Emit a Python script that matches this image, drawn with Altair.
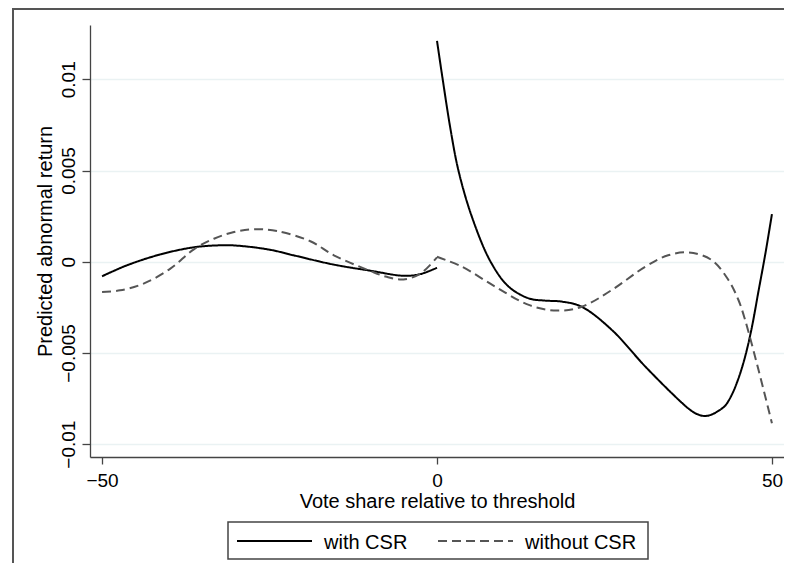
import altair as alt
import pandas as pd

# ---- data ----
x_left = [-50, -46.3, -41.3, -36.3, -32.3, -29.8, -25, -21.4, -15.4, -10, -5, -2.5, 0]
with_left = [-0.0008, -0.0002, 0.0004, 0.00079, 0.0009, 0.00088, 0.00066, 0.00035,
             -0.00016, -0.00049, -0.00077, -0.00068, -0.00033]

x_left_d = [-50, -47.3, -43.8, -39.8, -36.3, -33.3, -30.3, -27.4, -23.9, -18.9, -15.4,
            -10, -7.5, -5, -2.5, 0]
without_left = [-0.00166, -0.00157, -0.0012, -0.00038, 0.00068, 0.00126, 0.00163, 0.00178,
                0.00168, 0.00112, 0.00035, -0.0005, -0.00083, -0.00097, -0.00066, 0.00024]

x_right = [0, 0.85, 2, 3.2, 5.2, 8, 10.7, 13.7, 16, 18.7, 21.6, 26.1, 31.1, 36.1, 38, 39,
           40, 41, 42, 43, 44, 45, 46, 47, 48, 49, 50]
with_right = [0.01211, 0.0100, 0.0073, 0.0050, 0.00247, 0.0, -0.00137, -0.00201, -0.00213,
              -0.00219, -0.00247, -0.00374, -0.00575, -0.00758, -0.00818, -0.00838,
              -0.00846, -0.00838, -0.00818, -0.0079, -0.0073, -0.0064, -0.0052, -0.0036,
              -0.0016, 0.0004, 0.00261]

x_right_d = [0, 3.7, 8.7, 13.7, 17.9, 21.6, 26.1, 31.1, 34.5, 37.6, 41, 43.5, 45, 46, 48, 50]
without_right = [0.00027, -0.00027, -0.00137, -0.00237, -0.00268, -0.00247, -0.00155,
                 -0.00027, 0.00035, 0.00051, 0.00009, -0.001, -0.0021, -0.0032, -0.00594,
                 -0.00886]

series = ["with CSR", "without CSR"]
x_ticks = [-50, 0, 50]
y_ticks = [-0.01, -0.005, 0, 0.005, 0.01]

rows = []
for xs, ys, s, seg in [(x_left, with_left, series[0], "L"),
                       (x_left_d, without_left, series[1], "L"),
                       (x_right, with_right, series[0], "R"),
                       (x_right_d, without_right, series[1], "R")]:
    for i, (xv, yv) in enumerate(zip(xs, ys)):
        rows.append({"x": xv, "y": yv, "series": s, "seg": s + seg, "order": i})
df = pd.DataFrame(rows)

FONT = "Liberation Sans"
COLORS = ["#000000", "#555555"]
DASHES = [[1, 0], [9, 5]]

lines = alt.Chart(df).mark_line(strokeWidth=2, interpolate="catmull-rom").encode(
    x=alt.X("x:Q", scale=alt.Scale(domain=[-51.8, 51.8], nice=False, zero=False),
            axis=alt.Axis(values=x_ticks, format="d", grid=False,
                          title="Vote share relative to threshold",
                          tickSize=7, labelPadding=7, titlePadding=1)),
    y=alt.Y("y:Q", scale=alt.Scale(domain=[-0.010707, 0.012977], nice=False, zero=False),
            axis=alt.Axis(values=y_ticks, format="~g", grid=True,
                          title="Predicted abnormal return",
                          labelAngle=270, labelAlign="center", labelBaseline="bottom",
                          tickSize=8, labelPadding=4, titlePadding=4)),
    color=alt.Color("series:N", scale=alt.Scale(domain=series, range=COLORS), legend=None),
    strokeDash=alt.StrokeDash("series:N", scale=alt.Scale(domain=series, range=DASHES),
                              legend=None),
    detail="seg:N",
    order="order:Q",
)

# outer frame of the graph region (right/bottom edges fall outside the page)
border = alt.Chart(alt.Data(values=[{"a": 1}])).mark_rect(
    filled=False, stroke="#555555", strokeWidth=2, clip=False
).encode(x=alt.value(-77), x2=alt.value(900), y=alt.value(-16), y2=alt.value(700))

# legend drawn as a framed key below the plot
legend_box = alt.Chart(alt.Data(values=[{"a": 1}])).mark_rect(
    fill="white", stroke="#444444", strokeWidth=1.5, clip=False
).encode(x=alt.value(138), x2=alt.value(558), y=alt.value(497), y2=alt.value(534))

sym_x = [147, 348]
lab_x = [234, 435]
legend_layers = [legend_box]
for i, s in enumerate(series):
    d = alt.Data(values=[{"series": s}])
    legend_layers.append(
        alt.Chart(d).mark_rule(color=COLORS[i], strokeDash=DASHES[i], strokeWidth=2,
                               clip=False)
        .encode(x=alt.value(sym_x[i]), x2=alt.value(sym_x[i] + 75), y=alt.value(516))
    )
    legend_layers.append(
        alt.Chart(d).mark_text(font=FONT, fontSize=20, color="#000", align="left",
                               baseline="alphabetic", clip=False)
        .encode(text="series:N", x=alt.value(lab_x[i]), y=alt.value(524))
    )

chart = alt.layer(border, lines, *legend_layers).properties(
    width=694, height=432,
    autosize=alt.AutoSizeParams(type="none"),
    padding={"left": 82, "top": 17, "right": 0, "bottom": 106},
    background="white",
).configure_view(strokeWidth=0).configure_axis(
    labelFont=FONT, titleFont=FONT, labelFontSize=19, titleFontSize=20,
    labelColor="#000", titleColor="#000", titleFontWeight="normal",
    domainColor="#444", domainWidth=1.3, tickColor="#444", tickWidth=1.3,
    gridColor="#eaf2f3", gridWidth=1.5,
)

chart.save("out.html", embed_options={"renderer": "svg", "actions": False})
